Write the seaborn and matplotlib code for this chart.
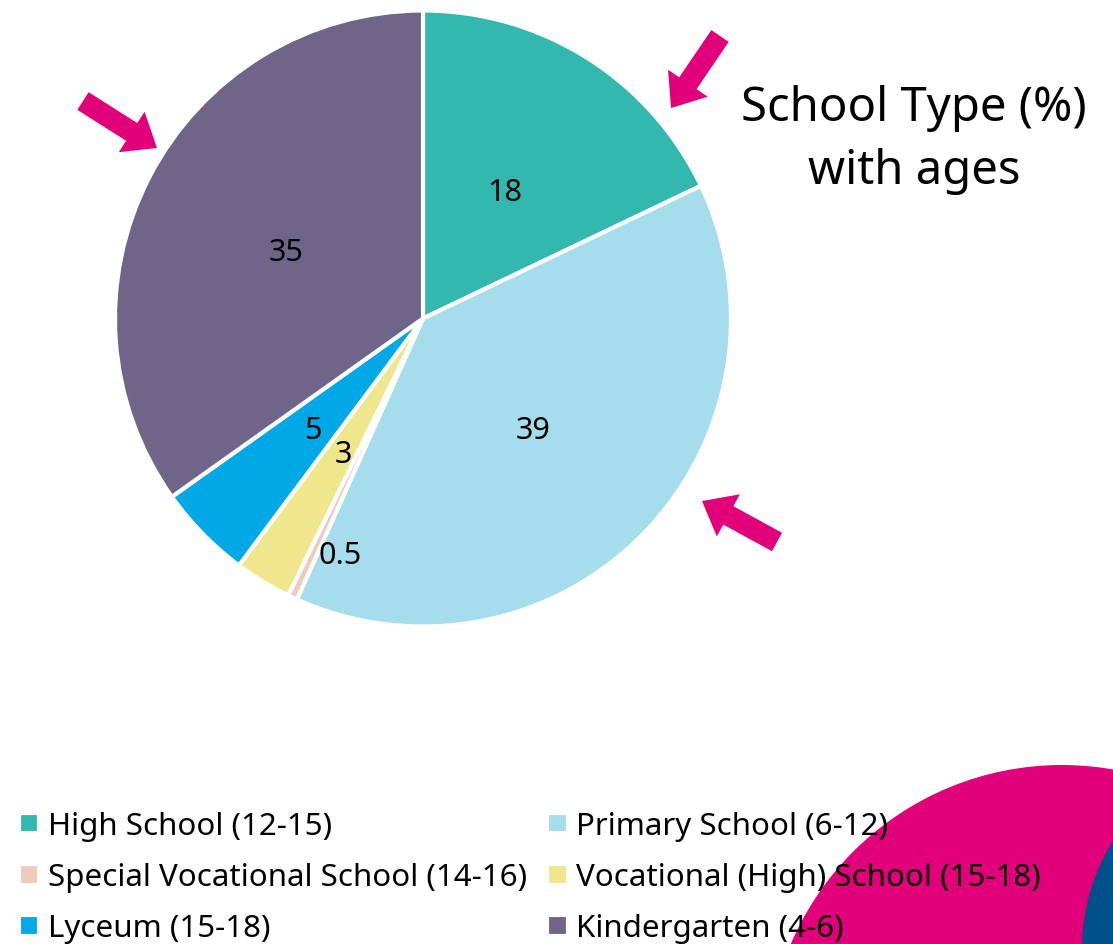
import matplotlib
matplotlib.use("Agg")
import numpy as np
import matplotlib.pyplot as plt
import seaborn as sns
from matplotlib.patches import FancyArrow, Circle

# data
schools = ["High School (12-15)", "Primary School (6-12)", "Special Vocational School (14-16)",
           "Vocational (High) School (15-18)", "Lyceum (15-18)", "Kindergarten (4-6)"]
shares = [18, 39, 0.5, 3, 5, 35]
share_labels = ["18", "39", "0.5", "3", "5", "35"]
colors = ["#33b8b0", "#a6dded", "#eecbbd", "#f0e68c", "#00a8e6", "#6e6589"]

sns.set_theme(style="white")
plt.rcParams['font.family'] = ['Noto Sans', 'DejaVu Sans']
plt.rcParams['text.color'] = 'black'

W, H = 1113, 945
fig = plt.figure(figsize=(W / 100, H / 100), dpi=100)

# overlay for decorations, pixel coordinates
deco = fig.add_axes([0, 0, 1, 1], zorder=0)
deco.set_xlim(0, W)
deco.set_ylim(H, 0)
deco.axis("off")
magenta = "#e2007a"
deco.add_patch(Circle((1062, 1061), 295, color=magenta, lw=0))
deco.add_patch(Circle((1286, 950), 204, color="#00508c", lw=0))
for (x0, y0), (x1, y1) in [((720, 37), (671, 109)), ((83, 102), (157, 149)), ((777, 543), (702, 502))]:
    deco.add_patch(FancyArrow(x0, y0, x1 - x0, y1 - y0, width=21, head_width=48,
                              head_length=30, length_includes_head=True, color=magenta, lw=0))

# pie
cx, cy, r = 423, 319.5, 308
ax = fig.add_axes([(cx - r) / W, (H - cy - r) / H, 2 * r / W, 2 * r / H], zorder=1)
wedges, _ = ax.pie(shares, colors=sns.color_palette(colors), startangle=90, counterclock=False,
                   wedgeprops=dict(edgecolor="white", linewidth=3))
for w, lab in zip(wedges, share_labels):
    ang = np.deg2rad((w.theta1 + w.theta2) / 2)
    if lab == "0.5":
        x, y = 0.8 * np.cos(ang) + 0.07, 0.8 * np.sin(ang) - 0.03
    else:
        x, y = 0.5 * np.cos(ang), 0.5 * np.sin(ang)
    ax.text(x, y - 0.012, lab, ha="center", va="center", fontsize=22, color="black")
ax.set_xlim(-1, 1)
ax.set_ylim(-1, 1)
ax.set_aspect("equal")
ax.axis("off")

fig.text(914 / W, 1 - 140 / H, "School Type (%)\nwith ages", ha="center", va="center",
         fontsize=34, linespacing=1.42)

# row-major order like the reference legend
order = [0, 2, 4, 1, 3, 5]
fig.legend([wedges[i] for i in order], [schools[i] for i in order], loc="upper left",
           bbox_to_anchor=(19 / W, 1 - 812 / H), ncol=2, frameon=False, fontsize=22.5,
           handlelength=0.65, handleheight=0.65, handletextpad=0.27, columnspacing=0.65,
           labelspacing=0.68, borderaxespad=0, borderpad=0)

fig.savefig("out.png", dpi=100)
